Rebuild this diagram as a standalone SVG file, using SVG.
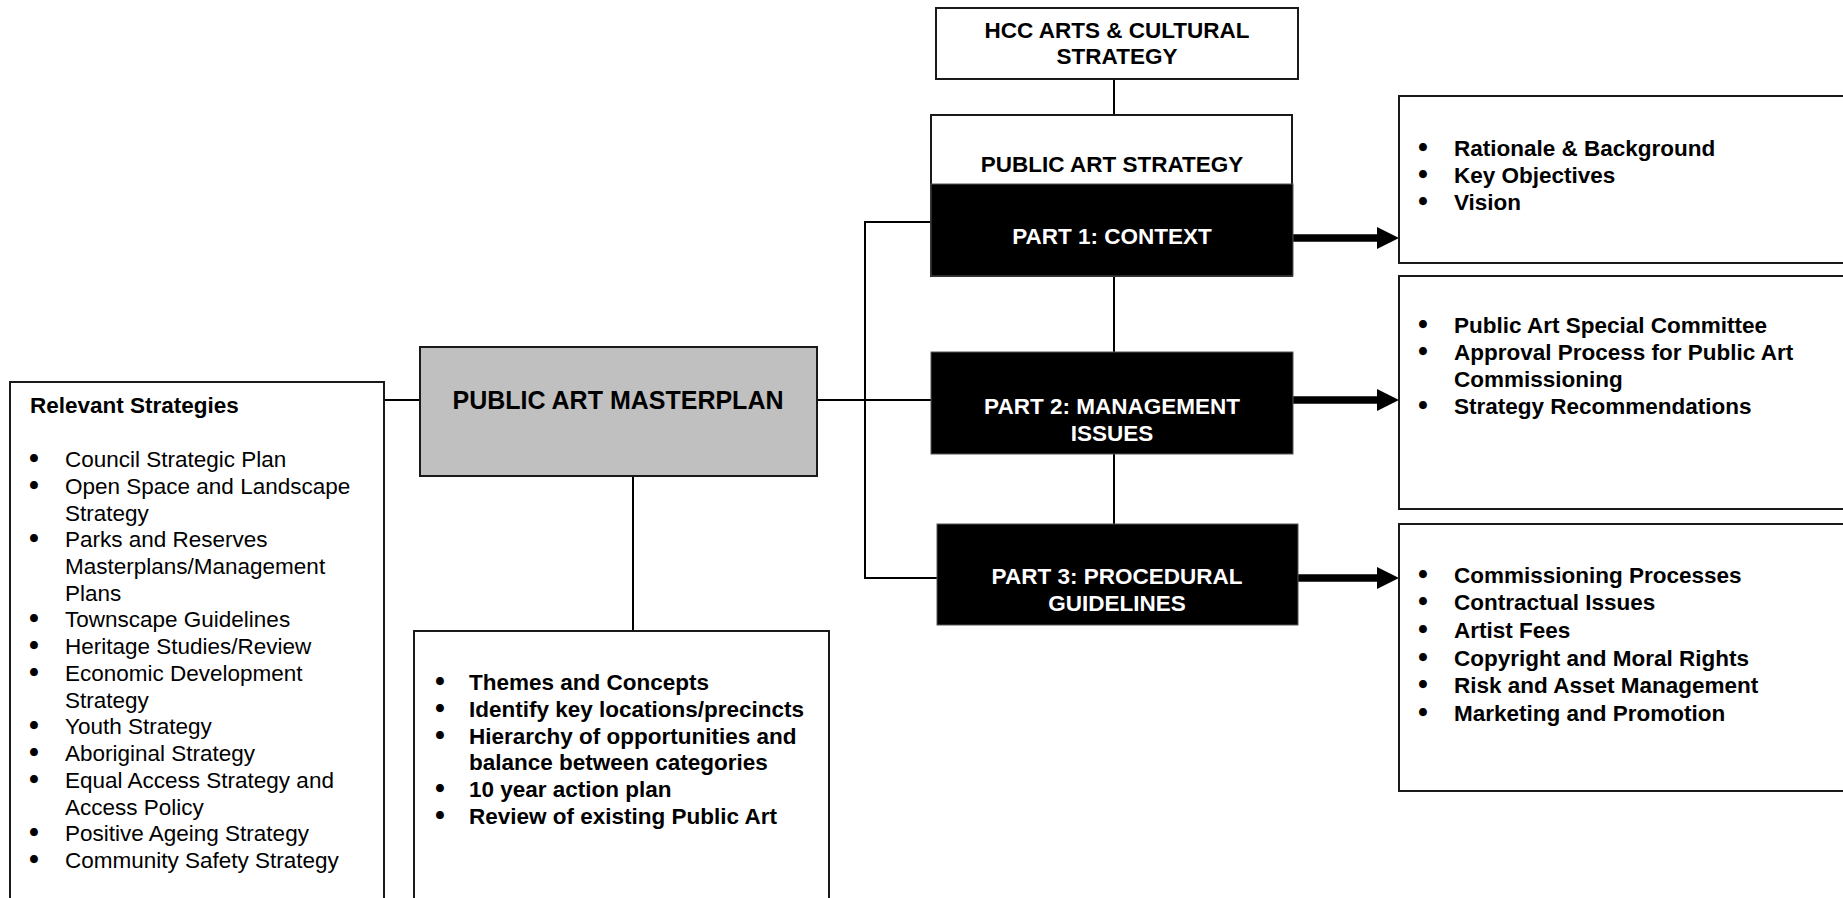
<svg xmlns="http://www.w3.org/2000/svg" width="1843" height="898" viewBox="0 0 1843 898">
<defs>
<style>
.box{fill:#fff;stroke:#1a1a1a;stroke-width:2}
.dark{fill:#000;stroke:#555;stroke-width:1}
.grey{fill:#c0c0c0;stroke:#1a1a1a;stroke-width:2}
text{font-family:"Liberation Sans",Arial,sans-serif;font-size:22.5px;fill:#000}
.b{font-weight:bold}
.w{fill:#fff}
.c{text-anchor:middle}
.bu{font-family:"DejaVu Sans",sans-serif;font-weight:bold;text-anchor:middle}
.ln{stroke:#000;stroke-width:2;fill:none}
.arr{stroke:#000;stroke-width:7.5;fill:none}
</style>
<marker id="ah" markerUnits="userSpaceOnUse" markerWidth="23" markerHeight="22" refX="1" refY="11" orient="auto">
<path d="M0,0 L22,11 L0,22 z" fill="#000"/>
</marker>
</defs>
<rect width="1843" height="898" fill="#fff"/>

<g id="connectors">
<line class="ln" x1="1114" y1="79" x2="1114" y2="115"/>
<line class="ln" x1="1114" y1="276" x2="1114" y2="352"/>
<line class="ln" x1="1114" y1="454" x2="1114" y2="524"/>
<line class="ln" x1="384" y1="400" x2="420" y2="400"/>
<line class="ln" x1="817" y1="400" x2="931" y2="400"/>
<polyline class="ln" points="931,222 865,222 865,578 937,578"/>
<line class="ln" x1="633" y1="476" x2="633" y2="631"/>
<line class="arr" x1="1293" y1="238" x2="1378" y2="238" marker-end="url(#ah)"/>
<line class="arr" x1="1293" y1="400" x2="1378" y2="400" marker-end="url(#ah)"/>
<line class="arr" x1="1298" y1="578" x2="1378" y2="578" marker-end="url(#ah)"/>
</g>

<g id="hcc">
<rect class="box" x="936" y="8" width="362" height="71"/>
<text class="b c" x="1117" y="38">HCC ARTS &amp; CULTURAL</text>
<text class="b c" x="1117" y="64">STRATEGY</text>
</g>

<g id="public-art-strategy">
<rect class="box" x="931" y="115" width="361" height="161"/>
<text class="b c" x="1112" y="172">PUBLIC ART STRATEGY</text>
</g>

<g id="part1">
<rect class="dark" x="931" y="184" width="362" height="92"/>
<text class="b c w" x="1112" y="244">PART 1: CONTEXT</text>
</g>

<g id="part2">
<rect class="dark" x="931" y="352" width="362" height="102"/>
<text class="b c w" x="1112" y="414">PART 2: MANAGEMENT</text>
<text class="b c w" x="1112" y="441">ISSUES</text>
</g>

<g id="part3">
<rect class="dark" x="937" y="524" width="361" height="101"/>
<text class="b c w" x="1117" y="584">PART 3: PROCEDURAL</text>
<text class="b c w" x="1117" y="611">GUIDELINES</text>
</g>

<g id="masterplan">
<rect class="grey" x="420" y="347" width="397" height="129"/>
<text class="b c" x="618" y="409" style="font-size:25px">PUBLIC ART MASTERPLAN</text>
</g>

<g id="relevant-strategies">
<rect class="box" x="10" y="382" width="374" height="540"/>
<text class="b" x="30" y="413">Relevant Strategies</text>
<text class="bu" x="34" y="467">•</text>
<text class="bu" x="34" y="493.7">•</text>
<text class="bu" x="34" y="547.2">•</text>
<text class="bu" x="34" y="627.4">•</text>
<text class="bu" x="34" y="654.1">•</text>
<text class="bu" x="34" y="680.8">•</text>
<text class="bu" x="34" y="734.3">•</text>
<text class="bu" x="34" y="761">•</text>
<text class="bu" x="34" y="787.8">•</text>
<text class="bu" x="34" y="841.2">•</text>
<text class="bu" x="34" y="868">•</text>
<text x="65" y="467">Council Strategic Plan</text>
<text x="65" y="493.7">Open Space and Landscape</text>
<text x="65" y="520.5">Strategy</text>
<text x="65" y="547.2">Parks and Reserves</text>
<text x="65" y="573.9">Masterplans/Management</text>
<text x="65" y="600.7">Plans</text>
<text x="65" y="627.4">Townscape Guidelines</text>
<text x="65" y="654.1">Heritage Studies/Review</text>
<text x="65" y="680.8">Economic Development</text>
<text x="65" y="707.6">Strategy</text>
<text x="65" y="734.3">Youth Strategy</text>
<text x="65" y="761">Aboriginal Strategy</text>
<text x="65" y="787.8">Equal Access Strategy and</text>
<text x="65" y="814.5">Access Policy</text>
<text x="65" y="841.2">Positive Ageing Strategy</text>
<text x="65" y="868">Community Safety Strategy</text>
</g>

<g id="masterplan-contents">
<rect class="box" x="414" y="631" width="415" height="290"/>
<text class="bu" x="440" y="690">•</text>
<text class="bu" x="440" y="716.8">•</text>
<text class="bu" x="440" y="743.6">•</text>
<text class="bu" x="440" y="797.2">•</text>
<text class="bu" x="440" y="824">•</text>
<text class="b" x="469" y="690">Themes and Concepts</text>
<text class="b" x="469" y="716.8">Identify key locations/precincts</text>
<text class="b" x="469" y="743.6">Hierarchy of opportunities and</text>
<text class="b" x="469" y="770.4">balance between categories</text>
<text class="b" x="469" y="797.2">10 year action plan</text>
<text class="b" x="469" y="824">Review of existing Public Art</text>
</g>

<g id="context-contents">
<rect class="box" x="1399" y="96" width="470" height="167"/>
<text class="bu" x="1423" y="156">•</text>
<text class="bu" x="1423" y="183">•</text>
<text class="bu" x="1423" y="210">•</text>
<text class="b" x="1454" y="156">Rationale &amp; Background</text>
<text class="b" x="1454" y="183">Key Objectives</text>
<text class="b" x="1454" y="210">Vision</text>
</g>

<g id="management-contents">
<rect class="box" x="1399" y="276" width="470" height="233"/>
<text class="bu" x="1423" y="333">•</text>
<text class="bu" x="1423" y="360">•</text>
<text class="bu" x="1423" y="414">•</text>
<text class="b" x="1454" y="333">Public Art Special Committee</text>
<text class="b" x="1454" y="360">Approval Process for Public Art</text>
<text class="b" x="1454" y="387">Commissioning</text>
<text class="b" x="1454" y="414">Strategy Recommendations</text>
</g>

<g id="procedural-contents">
<rect class="box" x="1399" y="524" width="470" height="267"/>
<text class="bu" x="1423" y="582.7">•</text>
<text class="bu" x="1423" y="610.3">•</text>
<text class="bu" x="1423" y="638">•</text>
<text class="bu" x="1423" y="665.6">•</text>
<text class="bu" x="1423" y="693.2">•</text>
<text class="bu" x="1423" y="720.8">•</text>
<text class="b" x="1454" y="582.7">Commissioning Processes</text>
<text class="b" x="1454" y="610.3">Contractual Issues</text>
<text class="b" x="1454" y="638">Artist Fees</text>
<text class="b" x="1454" y="665.6">Copyright and Moral Rights</text>
<text class="b" x="1454" y="693.2">Risk and Asset Management</text>
<text class="b" x="1454" y="720.8">Marketing and Promotion</text>
</g>
</svg>
